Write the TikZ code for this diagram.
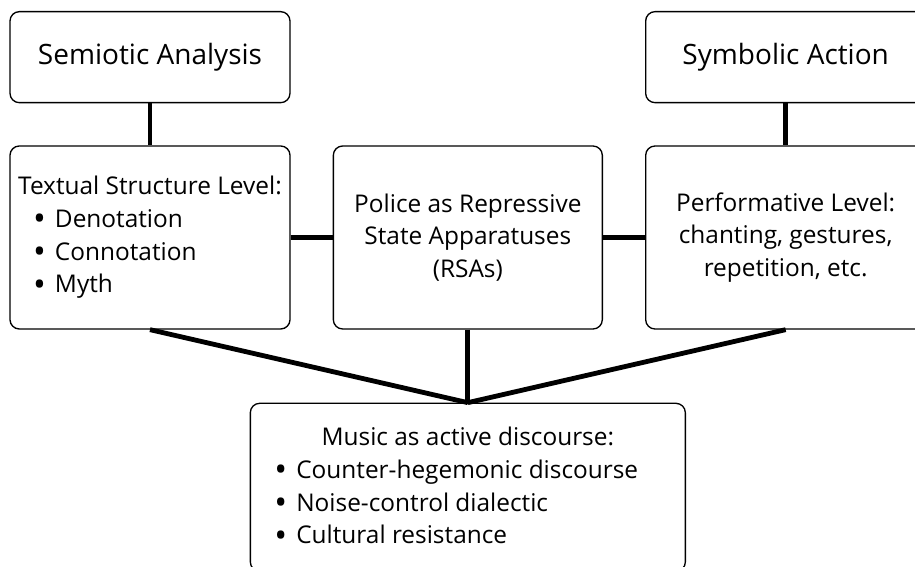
\documentclass[tikz,border=0pt]{standalone}
\usepackage{fontspec}
\usepackage{graphicx}
\setmainfont{Open Sans}
\usetikzlibrary{positioning}

% one bullet item, left-aligned in a block of given width
\newcommand{\bul}[2]{\makebox[#1][l]{\makebox[16.5pt][l]{\raisebox{-0.14em}{\scalebox{1.4}{\textbullet}}}#2}}

\begin{document}
\begin{tikzpicture}[
    x=0.75pt, y=0.75pt,
    box/.style={draw, rounded corners=7pt, line width=1pt, align=center,
      inner sep=2pt, minimum width=210pt, minimum height=137.25pt,
      font=\fontsize{18.3}{24.5}\selectfont},
    head/.style={draw, rounded corners=7pt, line width=1pt, align=center,
      minimum width=210pt, minimum height=68.25pt,
      font=\fontsize{21}{24}\selectfont},
    link/.style={line width=3.6pt}
  ]
    \useasboundingbox (0,0) rectangle (915,567);
    \node[box] (txt) at (150,329.5) {Textual Structure Level:\\
      \bul{175.5pt}{Denotation}\\ \bul{175.5pt}{Connotation}\\ \bul{175.5pt}{Myth}};
    \node[box, minimum width=201.75pt, right=31.5pt of txt] (pol)
      {Police as Repressive\\State Apparatuses\\(RSAs)};
    \node[box, right=31.5pt of pol] (perf)
      {Performative Level:\\chanting, gestures,\\repetition, etc.};
    \node[head, above=31.5pt of txt] (sem) {Semiotic Analysis};
    \node[head, above=31.5pt of perf] (sym) {Symbolic Action};
    \node[box, minimum width=326.25pt, minimum height=126pt, below=54.75pt of pol] (mus)
      {Music as active discourse:\\ \bul{290.25pt}{Counter-hegemonic discourse}\\
      \bul{290.25pt}{Noise-control dialectic}\\ \bul{290.25pt}{Cultural resistance}};
    \draw[link] (sem) -- (txt);
    \draw[link] (sym) -- (perf);
    \draw[link] (txt) -- (pol);
    \draw[link] (pol) -- (perf);
    \draw[link] (txt.south) -- (mus.north);
    \draw[link] (pol) -- (mus.north);
    \draw[link] (perf.south) -- (mus.north);
  \end{tikzpicture}
\end{document}
